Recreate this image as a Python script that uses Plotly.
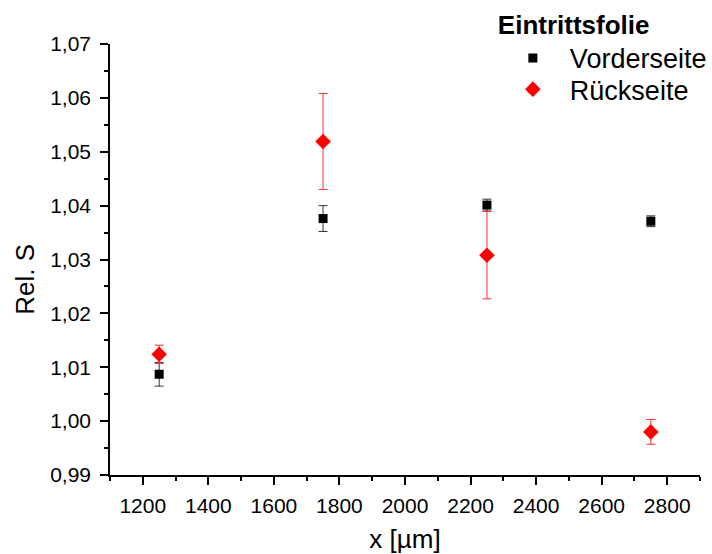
import plotly.graph_objects as go

# Measurement positions along the foil
x_pos = [1250, 1750, 2250, 2750]

# Front side of the entrance foil
vorder_s = [1.0087, 1.0376, 1.0401, 1.0371]
vorder_err = [0.0022, 0.0024, 0.0011, 0.0010]

# Back side of the entrance foil
rueck_s = [1.0124, 1.0519, 1.0308, 0.9980]
rueck_err = [0.0017, 0.0089, 0.0081, 0.0023]

FONT = "Liberation Sans, Arial, sans-serif"

fig = go.Figure()
fig.add_trace(go.Scatter(
    x=x_pos, y=vorder_s, mode="markers", name="Vorderseite", legend="legend",
    marker=dict(symbol="square", size=9, color="black"),
    error_y=dict(type="data", array=vorder_err, visible=True,
                 color="#333333", thickness=1, width=4.5),
))
fig.add_trace(go.Scatter(
    x=x_pos, y=rueck_s, mode="markers", name="Rückseite", legend="legend2",
    marker=dict(symbol="diamond", size=12, color="red"),
    error_y=dict(type="data", array=rueck_err, visible=True,
                 color="#ff3030", thickness=1, width=4.5),
))

axis_common = dict(
    showline=True, linecolor="black", linewidth=1.5,
    ticks="outside", ticklen=8, tickwidth=1.5, tickcolor="black",
    showgrid=False, zeroline=False, mirror=False, automargin=False,
    tickangle=0,
    tickfont=dict(family=FONT, size=21, color="black"),
)

fig.update_xaxes(
    range=[1100, 2900], tick0=1200, dtick=200,
    minor=dict(dtick=100, ticks="outside", ticklen=4, tickwidth=1.5, tickcolor="black"),
    title=dict(text="x [µm]", font=dict(family=FONT, size=26, color="black"), standoff=16),
    ticklabelstandoff=3,
    **axis_common,
)
fig.update_yaxes(
    range=[0.99, 1.07], tick0=0.99, dtick=0.01, tickformat=".2f",
    minor=dict(dtick=0.005, ticks="outside", ticklen=4, tickwidth=1.5, tickcolor="black"),
    ticklabelstandoff=5,
    **axis_common,
)

# y-axis label, placed a little below the middle of the axis
fig.add_annotation(
    text="Rel. S", textangle=-90, showarrow=False,
    xref="paper", yref="paper", x=0, y=0.453,
    xanchor="center", yanchor="middle", xshift=-85,
    font=dict(family=FONT, size=26, color="black"),
)

legend_common = dict(
    xanchor="left", yanchor="top",
    font=dict(family=FONT, size=27, color="black"),
    itemwidth=64, bgcolor="rgba(0,0,0,0)",
)

fig.update_layout(
    width=712, height=554,
    margin=dict(l=110, r=12, t=44, b=79, autoexpand=False),
    plot_bgcolor="white", paper_bgcolor="white",
    separators=",.",
    showlegend=True,
    legend=dict(
        x=0.654, y=1.102,
        title=dict(text="<b>Eintrittsfolie</b>", font=dict(family=FONT, size=26, color="black")),
        **legend_common,
    ),
    legend2=dict(x=0.654, y=0.951, **legend_common),
)

fig.write_html("out.html")
